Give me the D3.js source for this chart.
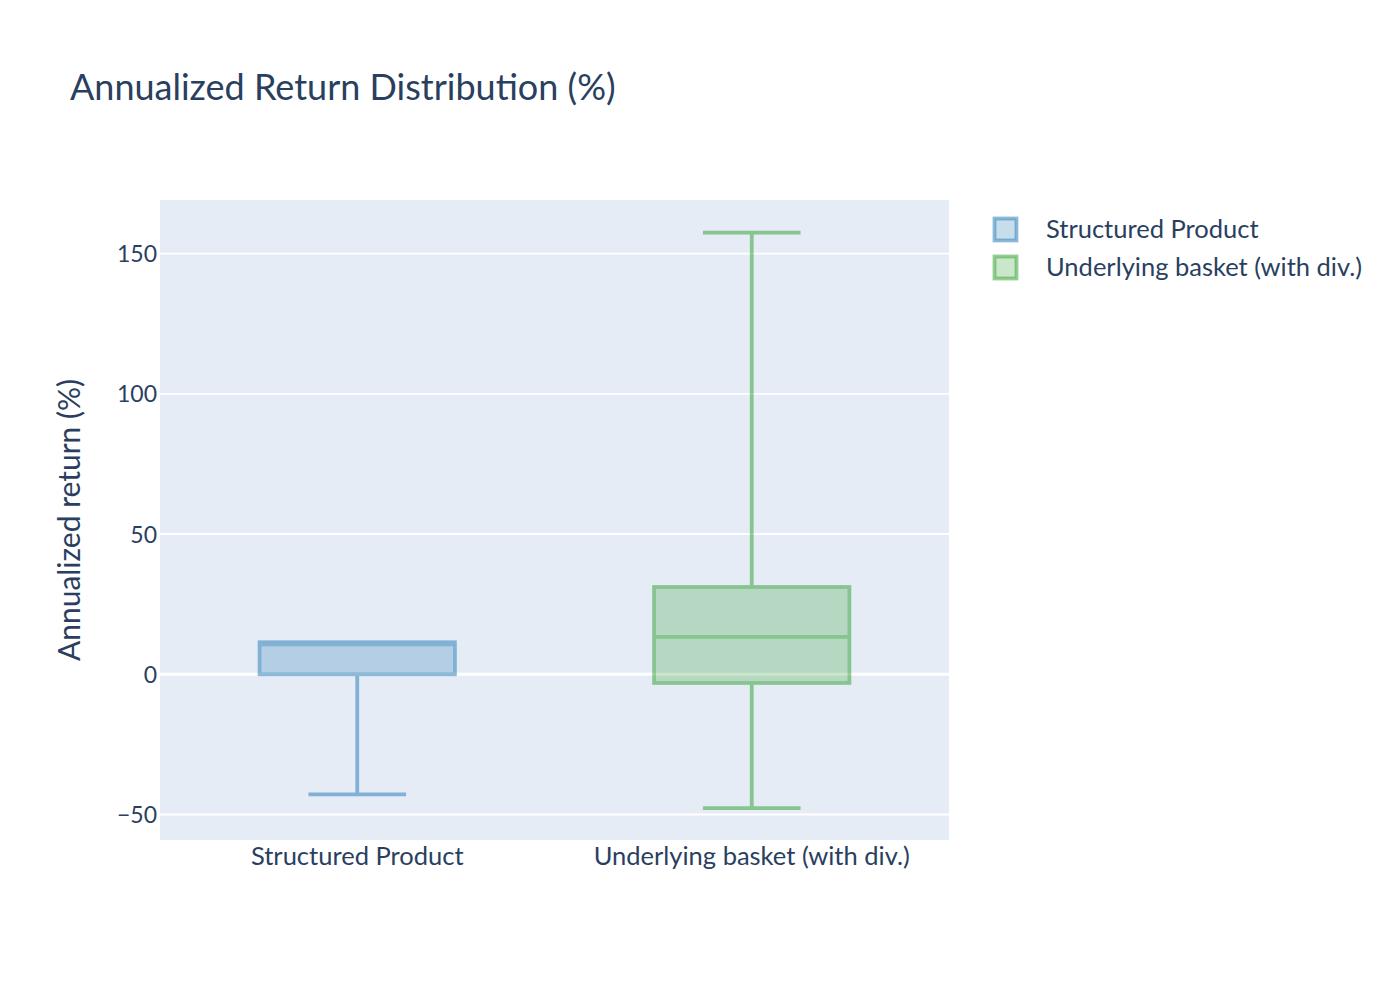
<!DOCTYPE html>
<html>
<head>
<meta charset="utf-8">
<script src="https://cdn.jsdelivr.net/npm/d3@7"></script>
<style>
  body { margin: 0; background: #fff; }
  svg { font-family: "Source Sans Pro", Lato, "Open Sans", sans-serif; }
</style>
</head>
<body>
<div id="chart"></div>
<script>
// box stats (annualized return, %)
var categories = ["Structured Product", "Underlying basket (with div.)"];
var colors = ["#1f77b4", "#2ca02c"];
var lowerFence = [-42.8, -47.7];
var q1 = [0.0, -3.1];
var median = [10.7, 13.3];
var q3 = [11.4, 31.1];
var upperFence = [11.4, 157.5];
var yTicks = [-50, 0, 50, 100, 150];
var yRange = [-59.1, 169.1];

var width = 1400, height = 1000;
var margin = {top: 200, right: 451, bottom: 160, left: 160};
var textColor = "#2a3f5f";

var svg = d3.select("#chart").append("svg")
    .attr("width", width)
    .attr("height", height);

var plotW = width - margin.left - margin.right,
    plotH = height - margin.top - margin.bottom;

var g = svg.append("g")
    .attr("transform", "translate(" + margin.left + "," + margin.top + ")");

g.append("rect")
    .attr("width", plotW)
    .attr("height", plotH)
    .attr("fill", "#E5ECF6");

var x = d3.scaleBand().domain(categories).range([0, plotW]);
var y = d3.scaleLinear().domain(yRange).range([plotH, 0]);

// gridlines
g.selectAll(".grid")
    .data(yTicks.filter(function(d){ return d !== 0; }))
    .enter().append("line")
    .attr("x1", 0).attr("x2", plotW)
    .attr("y1", function(d){ return y(d); })
    .attr("y2", function(d){ return y(d); })
    .attr("stroke", "#fff")
    .attr("stroke-width", 1.8);

g.append("line")
    .attr("x1", 0).attr("x2", plotW)
    .attr("y1", y(0)).attr("y2", y(0))
    .attr("stroke", "#fff")
    .attr("stroke-width", 2.8);

// y axis labels
var yAxis = d3.axisLeft(y).tickValues(yTicks).tickSize(0).tickPadding(3)
    .tickFormat(function(d){ return d < 0 ? "\u2212" + Math.abs(d) : d; });
var ya = g.append("g").call(yAxis)
    .attr("font-family", null).attr("font-size", null);
ya.select(".domain").remove();
ya.selectAll("text")
    .attr("fill", textColor)
    .style("font-size", "23px")
    .attr("dy", "0.35em");

// x axis labels
var xAxis = d3.axisBottom(x).tickSize(0).tickPadding(7);
var xa = g.append("g").attr("transform", "translate(0," + plotH + ")").call(xAxis)
    .attr("font-family", null).attr("font-size", null);
xa.select(".domain").remove();
xa.selectAll("text")
    .attr("fill", textColor)
    .style("font-size", "25.5px");

// boxes
var boxW = x.bandwidth() * 0.495;
var idx = d3.range(categories.length);
var sw = 3.8;

var boxes = g.selectAll(".box")
    .data(idx)
    .enter().append("g")
    .attr("class", "box")
    .attr("opacity", 0.5)
    .attr("transform", function(i){ return "translate(" + (x(categories[i]) + x.bandwidth() / 2) + ",0)"; });

boxes.append("line")
    .attr("x1", 0).attr("x2", 0)
    .attr("y1", function(i){ return y(q3[i]); })
    .attr("y2", function(i){ return y(upperFence[i]); })
    .attr("stroke", function(i){ return colors[i]; })
    .attr("stroke-width", sw);

boxes.append("line")
    .attr("x1", 0).attr("x2", 0)
    .attr("y1", function(i){ return y(q1[i]); })
    .attr("y2", function(i){ return y(lowerFence[i]); })
    .attr("stroke", function(i){ return colors[i]; })
    .attr("stroke-width", sw);

[upperFence, lowerFence].forEach(function(arr){
    boxes.filter(function(i){ return arr[i] !== q3[i]; })
        .append("line")
        .attr("x1", -boxW / 4).attr("x2", boxW / 4)
        .attr("y1", function(i){ return y(arr[i]); })
        .attr("y2", function(i){ return y(arr[i]); })
        .attr("stroke", function(i){ return colors[i]; })
        .attr("stroke-width", sw);
});

boxes.append("rect")
    .attr("x", -boxW / 2)
    .attr("width", boxW)
    .attr("y", function(i){ return y(q3[i]); })
    .attr("height", function(i){ return y(q1[i]) - y(q3[i]); })
    .attr("fill", function(i){ return colors[i]; })
    .attr("fill-opacity", 0.5)
    .attr("stroke", function(i){ return colors[i]; })
    .attr("stroke-width", sw);

boxes.append("line")
    .attr("x1", -boxW / 2).attr("x2", boxW / 2)
    .attr("y1", function(i){ return y(median[i]); })
    .attr("y2", function(i){ return y(median[i]); })
    .attr("stroke", function(i){ return colors[i]; })
    .attr("stroke-width", sw);

// title
svg.append("text")
    .attr("x", 70).attr("y", 100)
    .attr("fill", textColor)
    .style("font-size", "36px")
    .text("Annualized Return Distribution (%)");

// y axis title
svg.append("text")
    .attr("transform", "translate(80," + (margin.top + plotH / 2) + ") rotate(-90)")
    .attr("text-anchor", "middle")
    .attr("fill", textColor)
    .style("font-size", "30px")
    .text("Annualized return (%)");

// legend
var legend = svg.append("g").attr("transform", "translate(993,217)");
var items = legend.selectAll(".item")
    .data(idx)
    .enter().append("g")
    .attr("transform", function(i){ return "translate(0," + (i * 38) + ")"; });

items.append("rect")
    .attr("x", 1.5).attr("y", 1.5)
    .attr("width", 22).attr("height", 22)
    .attr("fill", function(i){ return colors[i]; })
    .attr("fill-opacity", 0.25)
    .attr("stroke", function(i){ return colors[i]; })
    .attr("stroke-opacity", 0.5)
    .attr("stroke-width", sw);

items.append("text")
    .attr("x", 53).attr("y", 12.5)
    .attr("dy", "0.35em")
    .attr("fill", textColor)
    .style("font-size", "25.5px")
    .text(function(i){ return categories[i]; });
</script>
</body>
</html>
